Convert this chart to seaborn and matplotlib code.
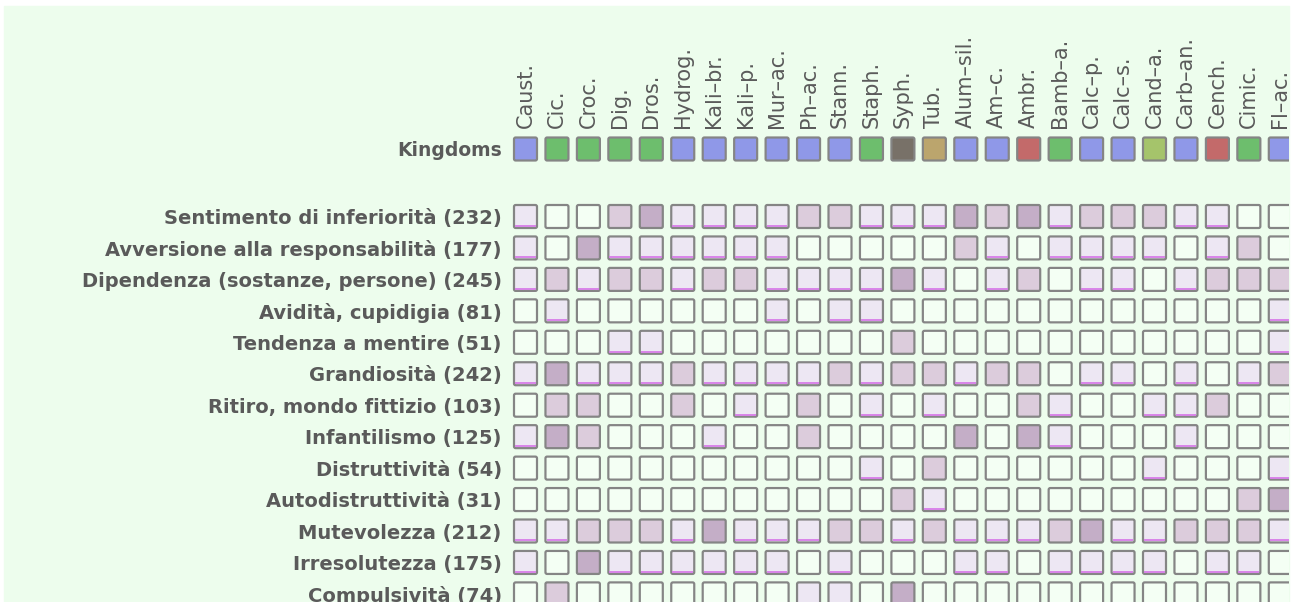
"""
Symptom x remedy grid: kingdom strip on top, graded cells below.
"""

import numpy as np
import pandas as pd
import matplotlib
matplotlib.use("Agg")
import matplotlib.pyplot as plt
from matplotlib.path import Path
from matplotlib.patches import Rectangle, FancyBboxPatch
import seaborn as sns

# --- data -------------------------------------------------------------
remedies = ["Caust.", "Cic.", "Croc.", "Dig.", "Dros.", "Hydrog.", "Kali–br.",
            "Kali–p.", "Mur–ac.", "Ph–ac.", "Stann.", "Staph.", "Syph.", "Tub.",
            "Alum–sil.", "Am–c.", "Ambr.", "Bamb–a.", "Calc–p.", "Calc–s.",
            "Cand–a.", "Carb–an.", "Cench.", "Cimic.", "Fl–ac."]

kingdoms = ["mineral", "plant", "plant", "plant", "plant", "mineral", "mineral",
            "mineral", "mineral", "mineral", "mineral", "plant", "nosode", "tuberc",
            "mineral", "mineral", "animal", "plant", "mineral", "mineral",
            "fungus", "mineral", "animal", "plant", "mineral"]

symptoms = ["Sentimento di inferiorità", "Avversione alla responsabilità",
            "Dipendenza (sostanze, persone)", "Avidità, cupidigia",
            "Tendenza a mentire", "Grandiosità", "Ritiro, mondo fittizio",
            "Infantilismo", "Distruttività", "Autodistruttività",
            "Mutevolezza", "Irresolutezza", "Compulsività"]

counts = [232, 177, 245, 81, 51, 242, 103, 125, 54, 31, 212, 175, 74]

# grade 0-3 per symptom (rows) and remedy (columns)
grades = [
    [1, 0, 0, 2, 3, 1, 1, 1, 1, 2, 2, 1, 1, 1, 3, 2, 3, 1, 2, 2, 2, 1, 1, 0, 0],
    [1, 0, 3, 1, 1, 1, 1, 1, 1, 0, 0, 0, 0, 0, 2, 1, 0, 1, 1, 1, 1, 0, 1, 2, 0],
    [1, 2, 1, 2, 2, 1, 2, 2, 1, 1, 1, 1, 3, 1, 0, 1, 2, 0, 1, 1, 0, 1, 2, 2, 2],
    [0, 1, 0, 0, 0, 0, 0, 0, 1, 0, 1, 1, 0, 0, 0, 0, 0, 0, 0, 0, 0, 0, 0, 0, 1],
    [0, 0, 0, 1, 1, 0, 0, 0, 0, 0, 0, 0, 2, 0, 0, 0, 0, 0, 0, 0, 0, 0, 0, 0, 1],
    [1, 3, 1, 1, 1, 2, 1, 1, 1, 1, 2, 1, 2, 2, 1, 2, 2, 0, 1, 1, 0, 1, 0, 1, 2],
    [0, 2, 2, 0, 0, 2, 0, 1, 0, 2, 0, 1, 0, 1, 0, 0, 2, 1, 0, 0, 1, 1, 2, 0, 0],
    [1, 3, 2, 0, 0, 0, 1, 0, 0, 2, 0, 0, 0, 0, 3, 0, 3, 1, 0, 0, 0, 1, 0, 0, 0],
    [0, 0, 0, 0, 0, 0, 0, 0, 0, 0, 0, 1, 0, 2, 0, 0, 0, 0, 0, 0, 1, 0, 0, 0, 1],
    [0, 0, 0, 0, 0, 0, 0, 0, 0, 0, 0, 0, 2, 1, 0, 0, 0, 0, 0, 0, 0, 0, 0, 2, 3],
    [1, 1, 2, 2, 2, 1, 3, 1, 1, 1, 2, 2, 1, 2, 1, 1, 1, 2, 3, 1, 1, 2, 2, 2, 1],
    [1, 0, 3, 1, 1, 1, 1, 1, 1, 0, 1, 0, 0, 0, 1, 1, 0, 1, 1, 1, 1, 0, 1, 1, 0],
    [0, 2, 0, 0, 0, 0, 0, 0, 0, 1, 1, 0, 3, 0, 0, 0, 0, 0, 0, 0, 0, 0, 0, 0, 0],
]

# --- styling ----------------------------------------------------------
KINGDOM_COLORS = {"mineral": "#8F98E8", "plant": "#6DBE6D", "animal": "#C36A6A",
                  "nosode": "#787168", "tuberc": "#BBA56D", "fungus": "#A5C46B"}
GRADE_COLORS = {0: "#F4FFF4", 1: "#EDE7F3", 2: "#DCCCDC", 3: "#C4AEC7"}
BG = "#EDFDED"
EDGE = "#858585"
UNDERLINE = "#D77CE8"
TEXT = "#5A5A5A"

W, H = 1302, 602
PITCH = 31.45          # px between cell centres
X0 = 525.5             # px centre of first column
ROW0 = 216.5           # px centre of first symptom row
KROW = 149.0           # px centre of kingdom strip
RIGHT = 1289.0         # px where the panel ends
CELL_S = (23 / (100 / 72)) ** 2   # marker area (pt^2) for a 23px square
LW = 2.2 / (100 / 72)

sns.set_style("white")
plt.rcParams["font.family"] = ["DejaVu Sans"]

# slightly rounded square marker
box = FancyBboxPatch((-0.5, -0.5), 1, 1,
                     boxstyle="round,pad=0,rounding_size=0.07").get_path()
# underline marker: a short bar along the inner bottom of the square
under = Path([(0.5, 0.5), (-0.452, -0.41), (0.452, -0.41)],
             [Path.MOVETO, Path.MOVETO, Path.LINETO])

df = pd.DataFrame(
    [(c, r, g) for r, row in enumerate(grades) for c, g in enumerate(row)],
    columns=["col", "row", "grade"],
)
kdf = pd.DataFrame({"col": np.arange(len(remedies)), "row": 0, "kingdom": kingdoms})

fig = plt.figure(figsize=(W / 100, H / 100), dpi=100)
fig.patch.set_facecolor("white")
fig.add_artist(Rectangle((4 / W, 0), (RIGHT - 4) / W, (H - 6) / H,
                         transform=fig.transFigure, color=BG, zorder=0))

left_px = X0 - PITCH / 2
ax_w = (RIGHT - left_px) / W
xmax = -0.5 + (RIGHT - left_px) / PITCH

# main grid
top_px = ROW0 - PITCH / 2
ax = fig.add_axes([left_px / W, 0, ax_w, (H - top_px) / H])
sns.scatterplot(data=df, x="col", y="row", hue="grade", palette=GRADE_COLORS,
                marker=box, s=CELL_S, edgecolor=EDGE, linewidth=LW,
                legend=False, ax=ax)
sns.scatterplot(data=df[df["grade"] == 1], x="col", y="row", marker=under,
                s=CELL_S, facecolor="none", edgecolor=UNDERLINE,
                linewidth=1.3, legend=False, ax=ax)
ax.set_xlim(-0.5, xmax)
ax.set_ylim(-0.5 + (H - top_px) / PITCH, -0.5)
ax.set_xticks([])
ax.set_yticks(range(len(symptoms)))
ax.set_yticklabels([f"{s} ({n})" for s, n in zip(symptoms, counts)])

# kingdom strip
kax = fig.add_axes([left_px / W, (H - KROW - PITCH / 2) / H, ax_w, PITCH / H])
sns.scatterplot(data=kdf, x="col", y="row", hue="kingdom", palette=KINGDOM_COLORS,
                marker=box, s=CELL_S, edgecolor=EDGE, linewidth=LW,
                legend=False, ax=kax)
kax.set_xlim(-0.5, xmax)
kax.set_ylim(0.5, -0.5)
kax.set_yticks([0])
kax.set_yticklabels(["Kingdoms"])
kax.xaxis.tick_top()
kax.set_xticks(range(len(remedies)))
kax.set_xticklabels(remedies, rotation=90, fontsize=15, color=TEXT)
kax.tick_params(axis="x", length=0, pad=3.5)

for a, size in ((ax, 14), (kax, 13.5)):
    a.set_facecolor("none")
    a.set_xlabel("")
    a.set_ylabel("")
    for sp in a.spines.values():
        sp.set_visible(False)
    a.tick_params(axis="y", length=0, pad=5.8, labelsize=size, labelcolor=TEXT)
    for t in a.get_yticklabels():
        t.set_fontweight("bold")

fig.savefig("out.png", dpi=100)
